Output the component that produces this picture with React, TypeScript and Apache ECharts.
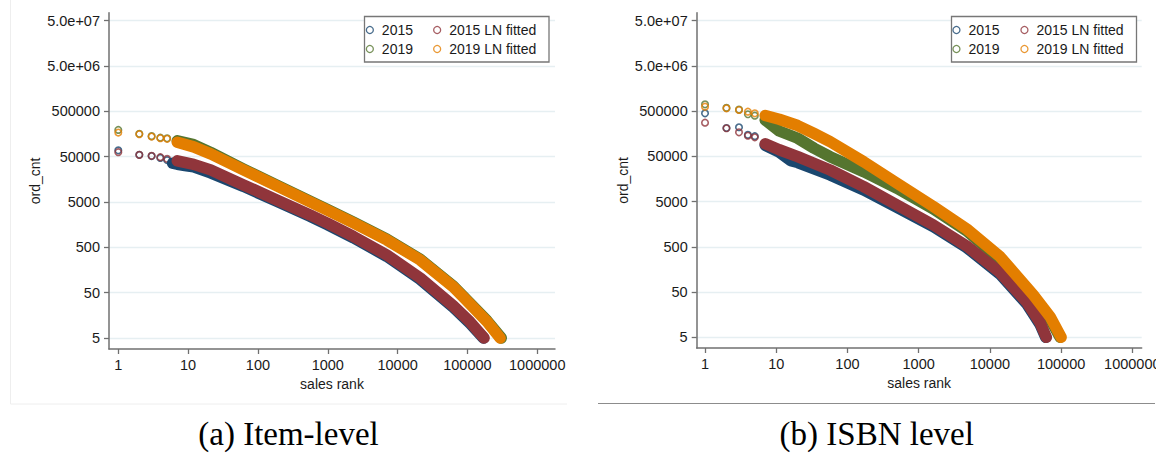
import React, { useEffect, useRef } from "react";
import * as echarts from "echarts";

// ---------- tick values / labels ----------
const xTickValues = [1, 10, 100, 1000, 10000, 100000, 1000000];
const xTickLabels = ["1", "10", "100", "1000", "10000", "100000", "1000000"];
const yTickValues = [5, 50, 500, 5000, 50000, 500000, 5000000, 50000000];
const yTickLabels = ["5", "50", "500", "5000", "50000", "500000", "5.0e+06", "5.0e+07"];

const seriesNames = ["2015", "2019", "2015 LN fitted", "2019 LN fitted"];
const seriesColors = ["#1a476f", "#55752f", "#90353b", "#e37e00"];
const captions = ["(a) Item-level", "(b) ISBN level"];

// ---------- (a) Item-level: [sales rank, ord_cnt] ----------
const item2015 = [
  [1, 68900], [2, 55000], [3, 51500], [4, 47000], [5, 42000], [6, 36000], [7, 34000], [9, 32000],
  [12, 30000], [21, 22000], [62, 11100], [186, 5170], [557, 2420], [1000, 1570], [2330, 810],
  [7000, 316], [21000, 98.6], [63000, 23.6], [109000, 10.5], [170000, 5],
];
const item2019 = [
  [1, 195000], [2, 160000], [3, 142000], [4, 131000], [5, 127000], [7, 112000], [12, 92000],
  [21, 62000], [62, 26600], [186, 11800], [557, 5230], [1000, 3390], [2330, 1800], [7000, 757],
  [21000, 275], [63000, 69.5], [109000, 29.3], [190000, 12.1], [305000, 5],
];
const item2015Fit = [
  [1, 62800], [2, 54800], [3, 52100], [4, 48800], [5, 44800], [7, 40400], [12, 33800], [21, 25600],
  [62, 11920], [186, 5560], [557, 2600], [1000, 1690], [2330, 871], [7000, 340], [21000, 106],
  [63000, 25.4], [109000, 11.3], [173000, 5],
];
const item2019Fit = [
  [1, 170000], [2, 157000], [3, 139000], [4, 128000], [5, 124000], [7, 104500], [12, 82300],
  [21, 57700], [62, 25600], [186, 11330], [557, 5030], [1000, 3260], [2330, 1730], [7000, 728],
  [21000, 264], [63000, 66.8], [109000, 28.2], [190000, 11.6], [294000, 5],
];

// ---------- (b) ISBN level: [sales rank, ord_cnt] ----------
const isbn2015 = [
  [1, 448000], [2, 212000], [3, 220000], [4, 150000], [5, 140000], [7, 88000], [11, 62000],
  [16, 40000], [20, 36500], [57, 19400], [169, 9030], [497, 3700], [1610, 1390], [4740, 480],
  [13900, 124], [33000, 27.5], [50700, 9.6], [61000, 5],
];
const isbn2019 = [
  [1, 708000], [2, 590000], [3, 540000], [4, 426000], [5, 396000], [7, 318000], [11, 182000],
  [20, 125600], [34, 75500], [57, 49200], [169, 22900], [497, 9840], [1610, 3430], [4740, 1120],
  [13900, 262], [40800, 37.9], [70100, 12.7], [97000, 5],
];
const isbn2015Fit = [
  [1, 278000], [2, 209000], [3, 170000], [4, 143000], [5, 132000], [7, 95000], [11, 70000],
  [20, 49200], [57, 25000], [169, 10700], [497, 4210], [1610, 1520], [4740, 520], [13900, 135],
  [33000, 30], [50700, 10.5], [62000, 5],
];
const isbn2019Fit = [
  [1, 627000], [2, 578000], [3, 530000], [4, 486000], [5, 448000], [7, 400000], [11, 330000],
  [20, 240000], [34, 160000], [57, 105700], [169, 38100], [497, 12700], [1610, 3900],
  [4740, 1240], [13900, 303], [40800, 43], [70100, 14.3], [100000, 5],
];

const panels = [
  { sets: [item2015, item2019, item2015Fit, item2019Fit], xRange: [0.736, 1.795e6], yRange: [2.86, 7.5e7] },
  { sets: [isbn2015, isbn2019, isbn2015Fit, isbn2019Fit], xRange: [0.764, 1.355e6], yRange: [2.9, 7.5e7] },
];

// ---------- styling ----------
const SANS = "Liberation Sans, Arial, Helvetica, sans-serif";
const SERIF = "Liberation Serif, Times New Roman, serif";
const TEXT = "#1a1a1a";
const AXIS = "#707070";
const GRIDC = "#e6eff2";
const sparseMaxRank = 5;

const lg = (v: number) => Math.log10(v);
const fmt = (values: number[], labels: string[]) => (v: number) => {
  const i = values.findIndex((t) => Math.abs(lg(t) - v) < 1e-6);
  return i >= 0 ? labels[i] : "";
};

function buildOption() {
  const gridLayout = [
    { left: 109, top: 12.7, width: 446, height: 336.3 },
    { left: 696.7, top: 12.7, width: 445, height: 335.3 },
  ];
  const xAxis: any[] = [];
  const yAxis: any[] = [];
  const series: any[] = [];
  panels.forEach((p, gi) => {
    xAxis.push({
      type: "value",
      gridIndex: gi,
      min: lg(p.xRange[0]),
      max: lg(p.xRange[1]),
      name: "sales rank",
      nameLocation: "middle",
      nameGap: 22,
      nameTextStyle: { fontSize: 14, color: TEXT, fontFamily: SANS },
      axisLine: { show: true, onZero: false, lineStyle: { color: AXIS, width: 1.5 } },
      axisTick: { show: true, length: 5, customValues: xTickValues.map(lg), lineStyle: { color: AXIS, width: 1.3 } },
      axisLabel: {
        customValues: xTickValues.map(lg),
        formatter: fmt(xTickValues, xTickLabels),
        margin: 8,
        fontSize: 14.5,
        color: TEXT,
        fontFamily: SANS,
      },
      splitLine: { show: false },
    });
    yAxis.push({
      type: "value",
      gridIndex: gi,
      min: lg(p.yRange[0]),
      max: lg(p.yRange[1]),
      name: "ord_cnt",
      nameLocation: "middle",
      nameGap: 67,
      nameTextStyle: { fontSize: 14, color: TEXT, fontFamily: SANS },
      axisLine: { show: true, onZero: false, lineStyle: { color: AXIS, width: 1.5 } },
      axisTick: { show: true, length: 5, customValues: yTickValues.map(lg), lineStyle: { color: AXIS, width: 1.3 } },
      axisLabel: {
        customValues: yTickValues.map(lg),
        formatter: fmt(yTickValues, yTickLabels),
        margin: 9,
        fontSize: 14.5,
        color: TEXT,
        fontFamily: SANS,
      },
      splitLine: { show: true, lineStyle: { color: GRIDC, width: 1.3 } },
    });
    p.sets.forEach((pts, i) => {
      const head = pts.filter((d) => d[0] <= sparseMaxRank).map((d) => [lg(d[0]), lg(d[1])]);
      const tail = pts.filter((d) => d[0] > sparseMaxRank).map((d) => [lg(d[0]), lg(d[1])]);
      series.push({
        type: "scatter",
        name: seriesNames[i],
        xAxisIndex: gi,
        yAxisIndex: gi,
        data: head,
        symbol: "circle",
        symbolSize: 6.5,
        itemStyle: { color: "rgba(0,0,0,0)", borderColor: seriesColors[i], borderWidth: 1.6 },
        silent: true,
      });
      series.push({
        type: "line",
        name: seriesNames[i],
        xAxisIndex: gi,
        yAxisIndex: gi,
        data: tail,
        symbol: "none",
        showSymbol: false,
        smooth: false,
        lineStyle: { color: seriesColors[i], width: 11.5, cap: "round", join: "round" },
        itemStyle: { color: seriesColors[i] },
        silent: true,
      });
    });
  });

  const legendItem = (i: number) => ({
    name: seriesNames[i],
    icon: "circle",
    itemStyle: { color: "rgba(0,0,0,0)", borderColor: seriesColors[i], borderWidth: 1.3 },
  });
  const legendBase = {
    orient: "vertical",
    itemWidth: 14,
    itemHeight: 7,
    itemGap: 5,
    padding: 0,
    selectedMode: false,
    textStyle: { fontSize: 14, color: TEXT, fontFamily: SANS },
  };
  const legend = [
    { ...legendBase, left: 365.7, top: 23, data: [legendItem(0), legendItem(1)] },
    { ...legendBase, left: 433, top: 23, data: [legendItem(2), legendItem(3)] },
    { ...legendBase, left: 952.3, top: 23, data: [legendItem(0), legendItem(1)] },
    { ...legendBase, left: 1020.3, top: 23, data: [legendItem(2), legendItem(3)] },
  ];

  const graphic: any[] = [
    { type: "rect", z: 1, shape: { x: 364.5, y: 16.5, width: 184.5, height: 45.5 }, style: { fill: "#ffffff", stroke: "#777777", lineWidth: 1.3 } },
    { type: "rect", z: 1, shape: { x: 951.5, y: 16.5, width: 185, height: 45.5 }, style: { fill: "#ffffff", stroke: "#777777", lineWidth: 1.3 } },
    { type: "line", shape: { x1: 10.5, y1: 0, x2: 10.5, y2: 404 }, style: { stroke: "#eeeeee", lineWidth: 1 } },
    { type: "line", shape: { x1: 10.5, y1: 404, x2: 567, y2: 404 }, style: { stroke: "#eeeeee", lineWidth: 1 } },
    { type: "line", shape: { x1: 598, y1: 403.5, x2: 1155, y2: 403.5 }, style: { stroke: "#8c8c8c", lineWidth: 1 } },
    { type: "rect", z: 100, shape: { x: 1156, y: 352, width: 11, height: 30 }, style: { fill: "#ffffff" } },
    { type: "text", x: 288.5, y: 434, style: { text: captions[0], font: `33px ${SERIF}`, fill: "#000", align: "center", verticalAlign: "middle" } },
    { type: "text", x: 876.7, y: 434, style: { text: captions[1], font: `33px ${SERIF}`, fill: "#000", align: "center", verticalAlign: "middle" } },
  ];

  return {
    animation: false,
    backgroundColor: "#ffffff",
    grid: gridLayout.map((g) => ({ ...g, containLabel: false, outerBoundsMode: "none" })),
    xAxis,
    yAxis,
    legend,
    graphic,
    series,
  };
}

export default function App() {
  const ref = useRef<HTMLDivElement>(null);
  useEffect(() => {
    if (!ref.current) return;
    const chart = echarts.init(ref.current, null, { renderer: "svg" });
    chart.setOption(buildOption() as any);
    return () => chart.dispose();
  }, []);
  return (
    <div
      ref={ref}
      style={{ position: "absolute", left: 0, top: 0, width: 1167, height: 454, background: "#fff" }}
    />
  );
}
